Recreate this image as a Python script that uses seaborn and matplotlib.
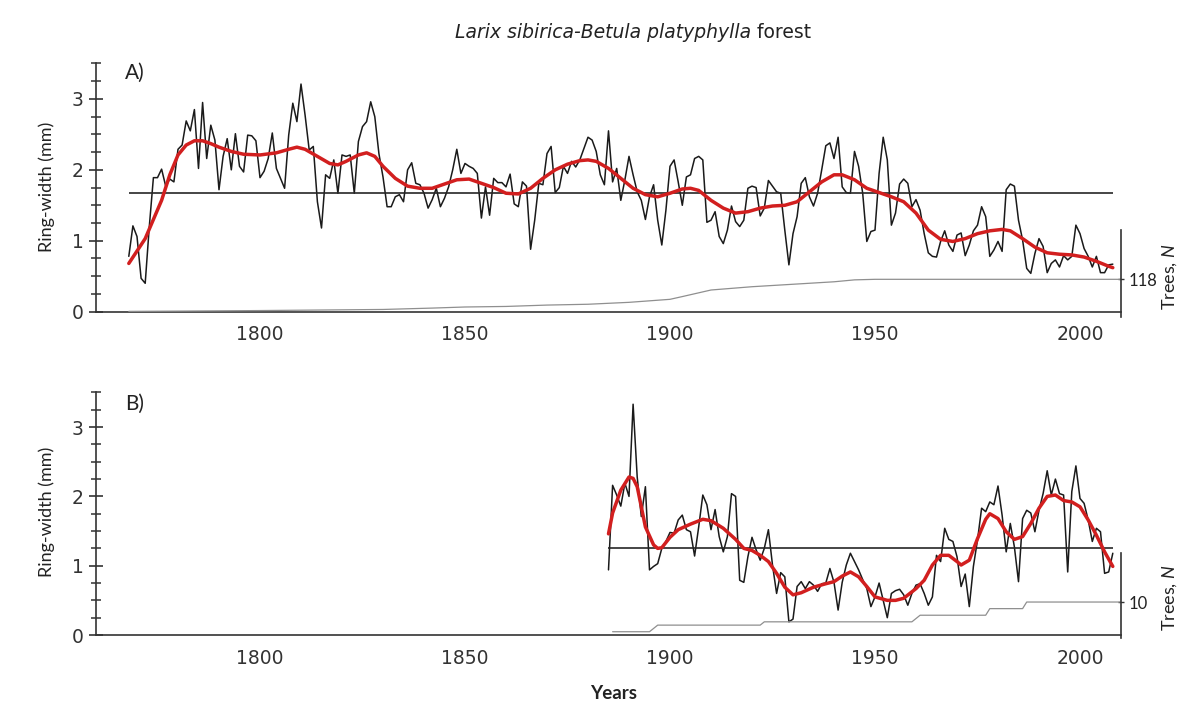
import numpy as np
import pandas as pd
import matplotlib
matplotlib.use("Agg")
import matplotlib.pyplot as plt
from matplotlib.ticker import FixedLocator
import seaborn as sns

# ---------------- data ----------------
years_a = list(range(1768, 2009))
ring_a = [
    0.78, 1.21, 1.06, 0.47, 0.40, 1.20, 1.89, 1.89, 2.01, 1.77, 1.87, 1.83,   # 1768-1779
    2.29, 2.35, 2.69, 2.55, 2.85, 2.02, 2.95, 2.16, 2.63, 2.42,               # 1780s
    1.72, 2.19, 2.44, 2.00, 2.51, 2.05, 1.97, 2.49, 2.48, 2.41,               # 1790s
    1.89, 1.98, 2.16, 2.52, 2.02, 1.88, 1.74, 2.49, 2.94, 2.68,               # 1800s
    3.21, 2.77, 2.28, 2.33, 1.55, 1.18, 1.93, 1.88, 2.14, 1.67,               # 1810s
    2.21, 2.19, 2.21, 1.67, 2.40, 2.61, 2.68, 2.96, 2.75, 2.23,               # 1820s
    1.90, 1.48, 1.48, 1.62, 1.65, 1.55, 2.00, 2.10, 1.81, 1.79,               # 1830s
    1.67, 1.46, 1.58, 1.74, 1.48, 1.60, 1.76, 2.00, 2.29, 1.95,               # 1840s
    2.09, 2.05, 2.02, 1.95, 1.32, 1.76, 1.36, 1.88, 1.82, 1.82,               # 1850s
    1.76, 1.94, 1.52, 1.48, 1.83, 1.77, 0.88, 1.29, 1.81, 1.79,               # 1860s
    2.23, 2.33, 1.68, 1.75, 2.05, 1.95, 2.12, 2.04, 2.14, 2.30,               # 1870s
    2.46, 2.42, 2.26, 1.93, 1.79, 2.55, 1.83, 2.02, 1.57, 1.86,               # 1880s
    2.19, 1.93, 1.69, 1.57, 1.30, 1.62, 1.79, 1.29, 0.94, 1.43,               # 1890s
    2.05, 2.14, 1.83, 1.50, 1.90, 1.93, 2.16, 2.19, 2.14, 1.26,               # 1900s
    1.29, 1.41, 1.06, 0.96, 1.15, 1.49, 1.27, 1.20, 1.29, 1.74,               # 1910s
    1.77, 1.75, 1.35, 1.46, 1.85, 1.77, 1.69, 1.67, 1.15, 0.66,               # 1920s
    1.10, 1.34, 1.81, 1.89, 1.62, 1.49, 1.67, 2.00, 2.34, 2.38,               # 1930s
    2.16, 2.46, 1.76, 1.68, 1.67, 2.26, 2.05, 1.67, 0.99, 1.13,               # 1940s
    1.15, 1.95, 2.46, 2.14, 1.22, 1.39, 1.80, 1.87, 1.81, 1.48,               # 1950s
    1.58, 1.43, 1.10, 0.83, 0.78, 0.77, 0.99, 1.14, 0.94, 0.85,               # 1960s
    1.08, 1.11, 0.79, 0.94, 1.14, 1.22, 1.48, 1.34, 0.78, 0.87,               # 1970s
    0.99, 0.85, 1.72, 1.80, 1.77, 1.29, 1.01, 0.61, 0.54, 0.82,               # 1980s
    1.03, 0.92, 0.55, 0.68, 0.73, 0.63, 0.79, 0.73, 0.78, 1.22,               # 1990s
    1.10, 0.89, 0.78, 0.63, 0.78, 0.55, 0.55, 0.66, 0.67,                     # 2000-2008
]
smooth_years_a = [1768, 1772, 1776, 1778, 1780, 1782, 1784, 1786, 1788, 1790,
                  1793, 1796, 1800, 1804, 1807, 1809, 1811, 1814, 1817, 1819,
                  1821, 1824, 1826, 1828, 1830, 1833, 1836, 1839, 1842, 1845,
                  1848, 1851, 1854, 1857, 1860, 1863, 1866, 1869, 1872, 1875,
                  1878, 1880, 1882, 1885, 1888, 1891, 1894, 1897, 1900, 1903,
                  1905, 1907, 1910, 1913, 1916, 1919, 1922, 1925, 1928, 1931,
                  1934, 1937, 1940, 1942, 1945, 1948, 1951, 1954, 1957, 1960,
                  1963, 1966, 1969, 1972, 1975, 1978, 1981, 1983, 1986, 1989,
                  1992, 1995, 1998, 2001, 2004, 2007, 2008]
smooth_a = [0.68, 1.03, 1.57, 1.93, 2.21, 2.35, 2.41, 2.41, 2.37, 2.32,
            2.26, 2.22, 2.21, 2.24, 2.29, 2.32, 2.29, 2.19, 2.09, 2.07,
            2.12, 2.21, 2.24, 2.19, 2.05, 1.88, 1.77, 1.74, 1.74, 1.80,
            1.86, 1.87, 1.81, 1.75, 1.67, 1.66, 1.74, 1.88, 2.00, 2.08,
            2.13, 2.14, 2.12, 2.02, 1.88, 1.74, 1.65, 1.62, 1.67, 1.73,
            1.74, 1.71, 1.57, 1.46, 1.39, 1.41, 1.46, 1.49, 1.50, 1.55,
            1.69, 1.83, 1.93, 1.93, 1.86, 1.74, 1.68, 1.62, 1.55, 1.39,
            1.15, 1.02, 0.99, 1.03, 1.10, 1.14, 1.16, 1.14, 1.03, 0.91,
            0.83, 0.81, 0.80, 0.77, 0.71, 0.64, 0.62]
mean_a = 1.67
depth_years_a = [1768, 1780, 1800, 1830, 1842, 1850, 1860, 1870, 1880, 1890,
                 1900, 1903, 1910, 1920, 1930, 1940, 1945, 1950, 2010]
depth_a = [1, 2, 4, 8, 13, 17, 19, 24, 27, 34, 45, 55, 79, 91, 100, 109, 116, 118, 118]

years_b = list(range(1885, 2009))
ring_b = [
    0.94, 2.16, 2.02, 1.86, 2.19,                                             # 1885-1889
    2.00, 3.33, 2.28, 1.71, 2.14, 0.94, 0.99, 1.03, 1.25, 1.35,               # 1890s
    1.48, 1.47, 1.66, 1.73, 1.52, 1.49, 1.14, 1.56, 2.02, 1.88,               # 1900s
    1.52, 1.81, 1.42, 1.20, 1.42, 2.04, 2.00, 0.79, 0.76, 1.13,               # 1910s
    1.41, 1.23, 1.08, 1.25, 1.52, 1.01, 0.60, 0.90, 0.84, 0.19,               # 1920s
    0.23, 0.70, 0.77, 0.67, 0.77, 0.72, 0.63, 0.74, 0.75, 0.96,               # 1930s
    0.76, 0.36, 0.76, 1.01, 1.18, 1.06, 0.94, 0.80, 0.67, 0.41,               # 1940s
    0.55, 0.75, 0.50, 0.25, 0.60, 0.64, 0.66, 0.58, 0.43, 0.60,               # 1950s
    0.72, 0.74, 0.60, 0.43, 0.55, 1.15, 1.06, 1.54, 1.38, 1.35,               # 1960s
    1.13, 0.70, 0.88, 0.41, 0.99, 1.37, 1.83, 1.78, 1.92, 1.88,               # 1970s
    2.15, 1.73, 1.20, 1.61, 1.27, 0.77, 1.68, 1.80, 1.76, 1.49,               # 1980s
    1.80, 2.04, 2.37, 2.02, 2.25, 2.04, 2.02, 0.91, 2.07, 2.44,               # 1990s
    1.97, 1.90, 1.66, 1.35, 1.54, 1.49, 0.89, 0.91, 1.18,                     # 2000-2008
]
smooth_years_b = [1885, 1886, 1888, 1890, 1891, 1892, 1893, 1894, 1896, 1897,
                  1898, 1900, 1902, 1905, 1908, 1910, 1913, 1916, 1918, 1920,
                  1922, 1924, 1926, 1928, 1930, 1932, 1935, 1938, 1940, 1942,
                  1944, 1946, 1948, 1950, 1953, 1955, 1957, 1960, 1962, 1964,
                  1966, 1968, 1970, 1971, 1973, 1975, 1977, 1978, 1980, 1982,
                  1984, 1986, 1988, 1990, 1992, 1994, 1996, 1998, 2000, 2002,
                  2004, 2006, 2008]
smooth_b = [1.46, 1.76, 2.09, 2.28, 2.26, 2.14, 1.85, 1.56, 1.30, 1.25,
            1.26, 1.41, 1.52, 1.60, 1.67, 1.65, 1.54, 1.38, 1.25, 1.22,
            1.15, 1.06, 0.89, 0.69, 0.58, 0.61, 0.69, 0.74, 0.77, 0.85,
            0.91, 0.84, 0.70, 0.55, 0.50, 0.50, 0.53, 0.67, 0.79, 1.01,
            1.15, 1.15, 1.06, 1.01, 1.08, 1.39, 1.67, 1.75, 1.68, 1.49,
            1.38, 1.42, 1.61, 1.83, 2.00, 2.02, 1.94, 1.92, 1.85, 1.66,
            1.44, 1.20, 0.99]
mean_b = 1.26
depth_years_b = [1886, 1895, 1897, 1922, 1923, 1959, 1961, 1977, 1978, 1986, 1987, 2010]
depth_b = [1, 1, 3, 3, 4, 4, 6, 6, 8, 8, 10, 10]

x_major = [1800, 1850, 1900, 1950, 2000]
x_minor = list(range(1760, 2011, 10))
y_major = [0, 1, 2, 3]
y_minor = list(np.arange(0, 3.51, 0.25))

# ---------------- style ----------------
sns.set_style("white")
plt.rcParams['font.family'] = ['DejaVu Sans']
plt.rcParams['mathtext.fontset'] = 'custom'
plt.rcParams['mathtext.rm'] = 'Lato'
plt.rcParams['mathtext.it'] = 'Lato:italic'

W, H = 1198, 702
fig = plt.figure(figsize=(W / 100, H / 100), dpi=100)
fig.patch.set_facecolor('white')

AX_COL = '#333333'
YLO, YHI = -0.15, 3.55


def panel(rect, years, ring, sm_years, sm_vals, mean_val, d_years, d_vals,
          trees_per_unit, right_lo, right_hi, letter, label_y):
    ax = fig.add_axes(rect)
    ax.set_facecolor('white')
    df = pd.DataFrame({'Year': years, 'RW': ring})
    sns.lineplot(data=df, x='Year', y='RW', ax=ax, color='#1a1a1a',
                 linewidth=1.1, estimator=None)
    ax.hlines(mean_val, years[0], years[-1], color='#262626', linewidth=1.2)
    sm = pd.DataFrame({'Year': sm_years, 'S': sm_vals})
    sns.lineplot(data=sm, x='Year', y='S', ax=ax, color='#d21f1f',
                 linewidth=2.5, estimator=None)
    ax.lines[-1].set_solid_joinstyle('round')
    ax.set_xlim(1760, 2010)
    ax.set_ylim(YLO, YHI)
    for s in ['top', 'right']:
        ax.spines[s].set_visible(False)
    for s in ['left', 'bottom']:
        ax.spines[s].set_color(AX_COL)
        ax.spines[s].set_linewidth(1.2)
    ax.spines['bottom'].set_position(('data', 0))
    ax.spines['bottom'].set_bounds(1760, 2010)
    ax.spines['left'].set_bounds(0, 3.5)
    ax.xaxis.set_major_locator(FixedLocator(x_major))
    ax.xaxis.set_minor_locator(FixedLocator(x_minor))
    ax.yaxis.set_major_locator(FixedLocator(y_major))
    ax.yaxis.set_minor_locator(FixedLocator(y_minor))
    ax.set_xticklabels([str(v) for v in x_major])
    ax.set_yticklabels([str(v) for v in y_major])
    ax.tick_params(axis='x', which='major', direction='inout', length=13.5,
                   width=1.2, color=AX_COL, labelsize=13.5, labelcolor='#333333', pad=3)
    ax.tick_params(axis='x', which='minor', direction='inout', length=6.5,
                   width=1.1, color=AX_COL)
    ax.tick_params(axis='y', which='major', direction='inout', length=10,
                   width=1.2, color=AX_COL, labelsize=13.5, labelcolor='#333333', pad=4)
    ax.tick_params(axis='y', which='minor', direction='inout', length=6.5,
                   width=1.1, color=AX_COL)
    ax.set_xlabel('')
    ax.set_ylabel('Ring-width (mm)', fontsize=13, family='Lato', color='#222222',
                  va='center', ha='center')
    ax.yaxis.set_label_coords(-0.0478, label_y)
    ax.text(0.028, 0.95 if letter == 'A)' else 0.941, letter, transform=ax.transAxes,
            fontsize=15, family='Lato', color='#222222', ha='left', va='center')

    ax2 = ax.twinx()
    dd = pd.DataFrame({'Year': d_years, 'N': d_vals})
    sns.lineplot(data=dd, x='Year', y='N', ax=ax2, color='#8f8f8f',
                 linewidth=0.9, estimator=None)
    ax2.set_xlim(1760, 2010)
    ax2.set_ylim(YLO * trees_per_unit, YHI * trees_per_unit)
    for s in ['top', 'left', 'bottom']:
        ax2.spines[s].set_visible(False)
    ax2.spines['right'].set_color(AX_COL)
    ax2.spines['right'].set_linewidth(1.2)
    ax2.spines['right'].set_bounds(right_lo * trees_per_unit, right_hi * trees_per_unit)
    ax2.yaxis.set_major_locator(FixedLocator([d_vals[-1]]))
    ax2.set_yticklabels([str(d_vals[-1])])
    ax2.tick_params(axis='y', which='major', direction='inout', length=5,
                    width=1.0, color=AX_COL, labelsize=12, labelcolor='#222222', pad=3)
    for lab in ax2.get_yticklabels():
        lab.set_fontfamily('Lato')
    ax2.set_ylabel('')
    ax2.set_xlabel('')
    ax2.grid(False)
    return ax, ax2


axA, axA2 = panel([96 / W, 0.5409, 1025 / W, 0.3737], years_a, ring_a,
                  smooth_years_a, smooth_a, mean_a, depth_years_a, depth_a,
                  118 / 0.456, -0.07, 1.15, 'A)', 0.516)
axB, axB2 = panel([96 / W, 0.0806, 1025 / W, 0.3653], years_b, ring_b,
                  smooth_years_b, smooth_b, mean_b, depth_years_b, depth_b,
                  10 / 0.476, -0.04, 1.18, 'B)', 0.521)

axB.set_xlabel('Years', fontsize=13.5, family='Lato', fontweight='bold',
               color='#222222', va='center')
axB.xaxis.set_label_coords(0.505, -0.186)

fig.text(1170 / W, 1 - 277 / H, 'Trees, $\\it{N}$', rotation=90, ha='center',
         va='center', fontsize=13, family='Lato', color='#222222')
fig.text(1170 / W, 1 - 598 / H, 'Trees, $\\it{N}$', rotation=90, ha='center',
         va='center', fontsize=13, family='Lato', color='#222222')

# title: italic species names + upright "forest"
t1 = fig.text(0, 1 - 33 / H, 'Larix sibirica-Betula platyphylla', style='italic',
              fontsize=13.5, family='DejaVu Sans', color='#222222', ha='left', va='center')
t2 = fig.text(0, 1 - 33 / H, ' forest', fontsize=13.5, family='DejaVu Sans',
              color='#222222', ha='left', va='center')
fig.canvas.draw()
r = fig.canvas.get_renderer()
b1 = t1.get_window_extent(r)
b2 = t2.get_window_extent(r)
total = b1.width + b2.width
x0 = 633 - total / 2
t1.set_x(x0 / W)
t2.set_x((x0 + b1.width) / W)

fig.savefig('out.png', dpi=100, facecolor='white')
